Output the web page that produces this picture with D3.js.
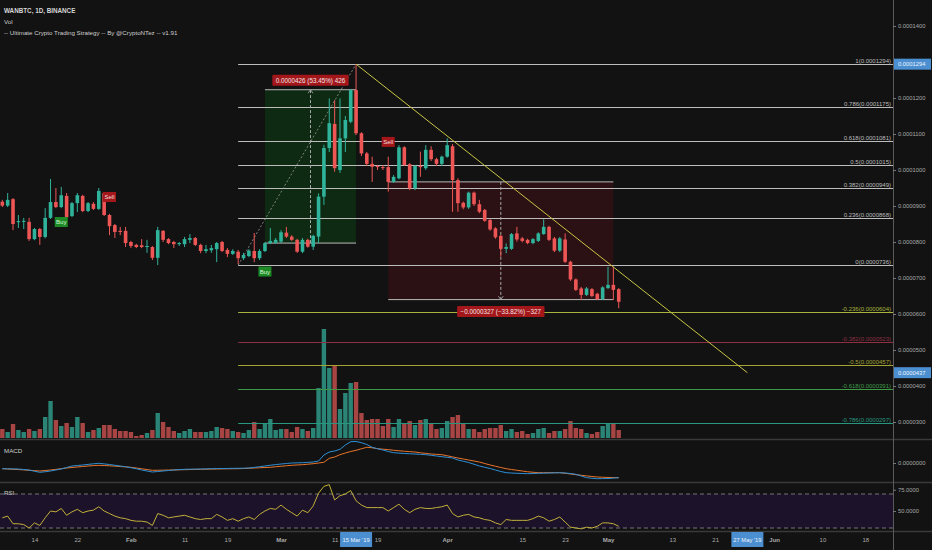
<!DOCTYPE html>
<html>
<head>
<meta charset="utf-8">
<script src="https://cdn.jsdelivr.net/npm/d3@7"></script>
<style>
html, body { margin: 0; padding: 0; background: #121212; }
svg { display: block; font-family: "Liberation Sans", Arial, sans-serif; }
</style>
</head>
<body>
<svg id="chart" width="932" height="550"></svg>
<script>
// daily candles, prices in satoshi (1e-8 BTC)
var firstDay = "2019-01-08", lastDay = "2019-05-03";

var opens = [9120,9010,9190,8550,8560,8560,8080,8360,8140,8670,9110,8970,9280,8720,9080,9280,8860,9060,8920,9360,
	8750,8470,8310,8310,8000,7920,7910,7860,7860,7560,8310,8080,8000,7940,7940,8060,8110,7920,7750,7770,
	7800,8000,7780,7670,7730,7550,7610,7750,7550,7750,7970,7980,8010,8260,8150,8060,7730,8060,7870,8150,
	9260,10610,11280,10000,10880,11340,12220,11020,10460,10170,10110,10080,10080,9670,9770,10630,10160,9490,10110,10050,
	10560,10300,10170,10370,10660,9720,9090,8960,9370,9050,8890,8610,8380,8170,7810,7810,8240,8100,8060,7970,
	8030,8220,8420,8100,7760,8070,7450,6960,6710,6530,6690,6560,6410,6720,6810,6690];
var highs = [9170,9360,9220,8750,8670,8670,8390,8390,8940,9750,9500,9530,9360,9110,9360,9310,9110,9110,9500,9390,
	8780,8500,8420,8420,8030,7950,8080,8060,7890,8420,8330,8110,8030,8000,8140,8220,8140,7950,7920,7920,
	8000,8030,7830,7800,7780,7700,7800,8250,7800,8000,8390,8110,8330,8420,8190,8090,8110,8090,8200,9350,
	10700,11990,11940,11990,11500,12250,12940,11050,10500,10370,10140,10140,10370,9860,10690,10660,10190,10140,10510,10690,
	10660,10340,10400,10880,10720,9770,9120,9400,9400,9170,8920,8640,8410,8200,7960,8250,8420,8140,8090,8110,
	8270,8630,8450,8140,8140,8240,7480,6990,6750,6750,6720,6590,6770,7310,7310,6720];
var lows = [8970,8970,8330,8390,8360,8030,8050,7920,8100,8640,8940,8940,8640,8690,8830,8830,8830,8890,8890,8720,
	8190,8110,8190,7860,7830,7830,7830,7700,7500,7360,8000,7940,7830,7890,7860,7970,7890,7690,7690,7700,
	7440,7720,7580,7640,7390,7500,7580,7440,7500,7720,7940,7950,7970,8110,8030,7700,7690,7840,7780,7970,
	9030,10500,9950,9920,10500,11300,10970,10390,10110,9670,10000,10000,9400,9640,9740,10110,9440,9440,9810,10000,
	10250,10110,10110,10340,8840,8840,8910,8920,9000,8800,8560,8310,8090,7590,7690,7780,8010,7990,7940,7940,
	8000,8200,8030,7720,7720,7420,6920,6640,6390,6500,6470,6390,6390,6690,6390,6160];
var closes = [9010,9170,8500,8580,8590,8080,8360,8140,8670,9110,8970,9300,8690,9080,9300,8860,9080,8920,9420,8750,
	8440,8280,8280,7970,7890,7860,7860,7890,7560,8330,8060,7970,7940,7970,8080,8110,7920,7750,7800,7830,
	7970,7750,7670,7750,7550,7640,7760,7550,7750,7970,8030,8060,8270,8150,8060,7730,8060,7870,8170,9260,
	10610,11300,10050,10880,11390,12220,11020,10460,10170,10090,10080,10060,9670,9810,10630,10140,9490,10110,10080,10560,
	10300,10170,10370,10690,9720,9080,8960,9370,9050,8840,8590,8350,8130,7810,7860,8220,8070,8030,7970,8080,
	8240,8420,8060,7760,8100,7450,6960,6670,6530,6710,6500,6410,6740,6810,6670,6340];
var volumes = [9,6,14,8,6,9,7,9,21,37,18,12,15,11,21,15,6,8,10,13,
	13,9,7,7,6,2,3,5,8,25,16,11,7,5,7,9,6,6,6,7,
	11,10,9,7,6,5,8,16,9,15,19,8,9,9,6,11,9,7,10,50,
	109,70,72,29,45,55,56,25,18,19,19,12,19,11,19,15,17,13,18,19,
	14,9,10,17,21,23,14,9,9,6,9,10,10,13,7,9,6,7,4,5,
	9,10,5,7,7,9,17,10,9,5,4,6,12,15,15,8];

// MACD (line and signal), RSI
var macdLine = [-228,-232,-236,-240,-260,-280,-330,-372,-350,-320,-280,-240,-180,-120,-100,-80,-56,-32,-12,-36,
	-60,-90,-120,-150,-188,-230,-280,-320,-360,-340,-320,-300,-280,-266,-252,-248,-244,-240,-236,-228,
	-224,-220,-218,-214,-212,-208,-200,-176,-148,-120,-90,-64,-40,-20,0,6,12,26,40,80,
	320,440,480,548,720,852,860,812,740,628,570,520,460,412,396,380,370,360,346,332,
	308,280,252,226,200,120,70,20,-50,-120,-170,-220,-280,-340,-388,-400,-412,-420,-428,-420,
	-412,-406,-400,-394,-388,-400,-420,-452,-520,-588,-610,-628,-624,-620,-606,-588];
var signalLine = [-228,-240,-252,-264,-276,-290,-305,-320,-300,-280,-255,-228,-200,-180,-160,-140,-120,-104,-92,-100,
	-112,-126,-140,-156,-172,-200,-230,-262,-292,-290,-286,-282,-278,-272,-268,-262,-256,-252,-248,-244,
	-240,-236,-232,-230,-228,-220,-210,-200,-190,-180,-172,-150,-130,-110,-92,-78,-68,-48,-28,0,
	28,188,240,332,400,460,508,570,628,610,572,552,536,510,490,470,455,440,410,385,
	360,346,332,290,245,200,160,120,80,40,-20,-80,-130,-180,-228,-260,-290,-320,-350,-370,
	-388,-388,-388,-388,-388,-410,-440,-468,-490,-515,-540,-560,-570,-578,-584,-588];
var rsiLine = [42,44,35,35,34,30,36,33,42,50,49,53,45,49,52,48,50,51,55,50,
	47,44,42,41,39,38,38,37,33,47,45,42,43,44,45,43,41,40,41,41,
	46,43,39,41,38,41,43,40,46,50,53,52,57,52,48,44,51,48,56,71,
	79,81,63,68,70,74,62,57,54,54,54,54,50,54,58,52,48,52,54,53,
	53,54,55,57,47,43,45,46,43,42,40,39,36,34,40,39,39,39,39,41,
	44,42,38,40,43,37,31,30,29,31,30,32,36,36,35,32];

// drawings
var fibDates = ["2019-02-21", "2019-03-15"];
var fibAnchors = [7360, 12940];
var fibLevels = [1, 0.786, 0.618, 0.5, 0.382, 0.236, 0, -0.236, -0.382, -0.5, -0.618, -0.786];
var trendDates = ["2019-03-15", "2019-05-27"];
var trendPrices = [12940, 4370];
var upRangeDates = ["2019-02-26", "2019-03-15"];
var upRangePrices = [7970, 12230];
var downRangeDates = ["2019-03-21", "2019-05-02"];
var downRangePrices = [9670, 6400];
var signalDates = ["2019-01-19", "2019-01-28", "2019-02-26", "2019-03-21"];
var signalTypes = ["Buy", "Sell", "Buy", "Sell"];
var signalPrices = [8555, 9250, 7180, 10780];

// axes
var priceTicks = [3000, 4000, 5000, 6000, 7000, 8000, 9000, 10000, 11000, 12000, 14000];
var dateTicks = ["2019-01-14","2019-01-22","2019-02-01","2019-02-11","2019-02-19","2019-03-01","2019-03-11","2019-03-19",
	"2019-04-01","2019-04-15","2019-04-23","2019-05-01","2019-05-13","2019-05-21","2019-06-01","2019-06-10","2019-06-18"];
var dateTickLabels = ["14","22","Feb","11","19","Mar","11","19","Apr","15","23","May","13","21","Jun","10","18"];
var markedPrices = [12940, 4370];
var markedDates = ["2019-03-15", "2019-05-27"];
var markedDateLabels = ["15 Mar '19", "27 May '19"];

var fibColors = ["#bdbdbd","#bdbdbd","#bdbdbd","#bdbdbd","#bdbdbd","#bdbdbd","#bdbdbd","#a9b43c","#8e2f42","#a3a334","#3f9a48","#27977f"];

var W = 932, H = 550, axisX = 893;
var upColor = "#2fb39b", downColor = "#ee5656";
var fmtPrice = function(v) { return (v / 1e8).toFixed(7); };
var parseDay = d3.utcParse("%Y-%m-%d");

var svg = d3.select("#chart");
svg.append("rect").attr("width", W).attr("height", H).attr("fill", "#121212");

var x = d3.scaleUtc().domain([parseDay("2019-01-08"), parseDay("2019-06-18")]).range([2.3, 865.3]);
var y = d3.scaleLinear().domain([3000, 14000]).range([422, 26]);
var yVol = d3.scaleLinear().domain([0, 110]).range([438, 328]);
var yMacd = d3.scaleLinear().domain([-700, 900]).range([480.5, 440.5]);
var yRsi = d3.scaleLinear().domain([30, 70]).range([528, 494]);

var dates = d3.utcDay.range(parseDay(firstDay), d3.utcDay.offset(parseDay(lastDay), 1));
var rows = dates.map(function(dt, i) {
	return {date: dt, o: opens[i], h: highs[i], l: lows[i], c: closes[i], v: volumes[i],
		macd: macdLine[i], sig: signalLine[i], rsi: rsiLine[i]};
});

svg.append("clipPath").attr("id", "mainClip").append("rect")
	.attr("x", 0).attr("y", 0).attr("width", axisX).attr("height", 439);
var main = svg.append("g").attr("clip-path", "url(#mainClip)");

// price range boxes
function rangeBox(ds, ps, fill) {
	var x0 = x(parseDay(ds[0])), x1 = x(parseDay(ds[1]));
	var yA = y(ps[0]), yB = y(ps[1]);
	main.append("rect")
		.attr("x", x0).attr("width", x1 - x0)
		.attr("y", Math.min(yA, yB)).attr("height", Math.abs(yB - yA))
		.attr("fill", fill);
}
rangeBox(upRangeDates, upRangePrices, "#0f2a13");
rangeBox(downRangeDates, downRangePrices, "#2b1113");

// volume
main.selectAll("rect.vol").data(rows).enter().append("rect")
	.attr("class", "vol")
	.attr("x", function(d) { return x(d.date) - 2.2; })
	.attr("width", 4.4)
	.attr("y", function(d) { return yVol(d.v); })
	.attr("height", function(d) { return yVol(0) - yVol(d.v); })
	.attr("fill", function(d) { return d.c >= d.o ? "#2a8576" : "#a64544"; });

// fib retracement
var fibX0 = x(parseDay(fibDates[0]));
fibLevels.forEach(function(lv, i) {
	var p = fibAnchors[0] + lv * (fibAnchors[1] - fibAnchors[0]);
	var yy = Math.round(y(p)) + 0.5;
	main.append("line")
		.attr("x1", fibX0).attr("x2", axisX).attr("y1", yy).attr("y2", yy)
		.attr("stroke", fibColors[i]).attr("stroke-width", 1);
	main.append("text")
		.attr("x", axisX - 2).attr("y", yy - 1.8)
		.attr("text-anchor", "end")
		.attr("font-size", 6)
		.attr("fill", fibColors[i])
		.text(lv + "(" + fmtPrice(Math.round(p / 10) * 10) + ")");
});
main.append("line")
	.attr("x1", fibX0).attr("y1", y(fibAnchors[0]))
	.attr("x2", x(parseDay(fibDates[1]))).attr("y2", y(fibAnchors[1]))
	.attr("stroke", "#9a9a9a").attr("stroke-width", 0.8).attr("stroke-dasharray", "2,2");

// range box edges and measuring arrows
function rangeEdges(ds, ps) {
	var x0 = x(parseDay(ds[0])), x1 = x(parseDay(ds[1])), xm = (x0 + x1) / 2;
	var yA = y(ps[0]), yB = y(ps[1]);
	[yA, yB].forEach(function(yy) {
		main.append("line").attr("x1", x0).attr("x2", x1).attr("y1", yy).attr("y2", yy)
			.attr("stroke", "#b8b8b8").attr("stroke-width", 1);
	});
	main.append("line").attr("x1", xm).attr("x2", xm).attr("y1", yA).attr("y2", yB)
		.attr("stroke", "#a8a8a8").attr("stroke-width", 1).attr("stroke-dasharray", "3,2");
	var dir = yB < yA ? 1 : -1;
	main.append("path")
		.attr("d", "M" + (xm - 2.5) + "," + (yB + dir * 3.5) + "L" + xm + "," + yB + "L" + (xm + 2.5) + "," + (yB + dir * 3.5))
		.attr("fill", "none").attr("stroke", "#a8a8a8").attr("stroke-width", 0.8);
}
rangeEdges(upRangeDates, upRangePrices);
rangeEdges(downRangeDates, downRangePrices);

// candles
var candle = main.selectAll("g.candle").data(rows).enter().append("g").attr("class", "candle");
candle.append("line")
	.attr("x1", function(d) { return x(d.date); })
	.attr("x2", function(d) { return x(d.date); })
	.attr("y1", function(d) { return y(d.h); })
	.attr("y2", function(d) { return y(d.l); })
	.attr("stroke", function(d) { return d.c >= d.o ? upColor : downColor; })
	.attr("stroke-width", 1);
candle.append("rect")
	.attr("x", function(d) { return x(d.date) - 1.8; })
	.attr("width", 3.6)
	.attr("y", function(d) { return y(Math.max(d.o, d.c)); })
	.attr("height", function(d) { return Math.max(1, Math.abs(y(d.o) - y(d.c))); })
	.attr("fill", function(d) { return d.c >= d.o ? upColor : downColor; });

// trend line
main.append("line")
	.attr("x1", x(parseDay(trendDates[0]))).attr("y1", y(trendPrices[0]))
	.attr("x2", x(parseDay(trendDates[1]))).attr("y2", y(trendPrices[1]))
	.attr("stroke", "#c9c544").attr("stroke-width", 1);

// range labels
function rangeLabel(ds, ps, dy) {
	var xm = (x(parseDay(ds[0])) + x(parseDay(ds[1]))) / 2;
	var diff = ps[1] - ps[0];
	var minus = function(s) { return s.replace("-", "\u2212"); };
	var txt = minus(fmtPrice(diff)) + " (" + minus((diff / ps[0] * 100).toFixed(2)) + "%) " + minus(String(diff / 10));
	var cy = y(ps[1]) + dy;
	var g = svg.append("g");
	var t = g.append("text").attr("x", xm).attr("y", cy).attr("text-anchor", "middle")
		.attr("dominant-baseline", "central").attr("font-size", 6.3).attr("fill", "#f0e6e6").text(txt);
	var w = t.node().getComputedTextLength() + 7;
	g.insert("rect", "text").attr("x", xm - w / 2).attr("y", cy - 5.5).attr("width", w).attr("height", 11)
		.attr("rx", 1).attr("fill", "#a3171b");
}
rangeLabel(upRangeDates, upRangePrices, -9.5);
rangeLabel(downRangeDates, downRangePrices, 12);

// strategy signals
signalDates.forEach(function(ds, i) {
	var cx = x(parseDay(ds)), cy = y(signalPrices[i]);
	var buy = signalTypes[i] == "Buy";
	main.append("rect").attr("x", cx - 6.5).attr("y", cy - 5).attr("width", 13).attr("height", 10)
		.attr("fill", buy ? "#1d8a26" : "#a3171b");
	main.append("text").attr("x", cx).attr("y", cy).attr("text-anchor", "middle")
		.attr("dominant-baseline", "central").attr("font-size", 6)
		.attr("fill", buy ? "#d8f5d8" : "#f6dede").text(signalTypes[i]);
});

// MACD pane
var macdPath = d3.line().x(function(d) { return x(d.date); });
svg.append("path").datum(rows)
	.attr("d", macdPath.y(function(d) { return yMacd(d.sig); }))
	.attr("fill", "none").attr("stroke", "#e8742b").attr("stroke-width", 1);
svg.append("path").datum(rows)
	.attr("d", d3.line().x(function(d) { return x(d.date); }).y(function(d) { return yMacd(d.macd); }))
	.attr("fill", "none").attr("stroke", "#2e8fd6").attr("stroke-width", 1);

// RSI pane
svg.append("rect").attr("x", 0).attr("width", axisX)
	.attr("y", yRsi(70)).attr("height", yRsi(30) - yRsi(70)).attr("fill", "#1c1229");
[70, 30].forEach(function(v) {
	svg.append("line").attr("x1", 0).attr("x2", axisX).attr("y1", yRsi(v)).attr("y2", yRsi(v))
		.attr("stroke", "#8d8d8d").attr("stroke-width", 0.8).attr("stroke-dasharray", "4,3");
});
svg.append("path").datum(rows)
	.attr("d", d3.line().x(function(d) { return x(d.date); }).y(function(d) { return yRsi(d.rsi); }))
	.attr("fill", "none").attr("stroke", "#c2b03a").attr("stroke-width", 1);

// pane separators and axis border
[439.5, 482.5, 531.5].forEach(function(yy) {
	svg.append("line").attr("x1", 0).attr("x2", W).attr("y1", yy).attr("y2", yy)
		.attr("stroke", "#3a3a3a").attr("stroke-width", 1.5);
});
svg.append("line").attr("x1", axisX + 0.5).attr("x2", axisX + 0.5).attr("y1", 0).attr("y2", H)
	.attr("stroke", "#5a5a5a").attr("stroke-width", 1);

// right axes
function styleAxis(g) {
	g.select(".domain").remove();
	g.attr("font-family", "Liberation Sans, Arial, sans-serif").attr("font-size", 5.8);
	g.selectAll("line").attr("stroke", "#777");
	g.selectAll("text").attr("fill", "#a9a9a9");
}
svg.append("g").attr("transform", "translate(" + axisX + ",0)")
	.call(d3.axisRight(y).tickValues(priceTicks).tickSize(3).tickPadding(2).tickFormat(fmtPrice))
	.call(styleAxis);
svg.append("g").attr("transform", "translate(" + axisX + ",0)")
	.call(d3.axisRight(yMacd).tickValues([0]).tickSize(3).tickPadding(2).tickFormat(function(v) { return v.toFixed(7); }))
	.call(styleAxis);
svg.append("g").attr("transform", "translate(" + axisX + ",0)")
	.call(d3.axisRight(yRsi.copy().clamp(false)).tickValues([75, 50]).tickSize(3).tickPadding(2).tickFormat(function(v) { return v.toFixed(4); }))
	.call(styleAxis);

markedPrices.forEach(function(p) {
	var yy = y(p);
	svg.append("rect").attr("x", axisX + 1).attr("y", yy - 5.5).attr("width", W - axisX - 2).attr("height", 11)
		.attr("fill", "#4b8fd1");
	svg.append("text").attr("x", axisX + 5).attr("y", yy).attr("dominant-baseline", "central")
		.attr("font-size", 5.8).attr("fill", "#eef4fb").text(fmtPrice(p));
});

// time axis
var gx = svg.append("g").attr("transform", "translate(0,531)")
	.call(d3.axisBottom(x).tickValues(dateTicks.map(parseDay)).tickSize(0).tickPadding(7)
		.tickFormat(function(d, i) { return dateTickLabels[i]; }));
gx.select(".domain").remove();
gx.attr("font-family", "Liberation Sans, Arial, sans-serif").attr("font-size", 6);
gx.selectAll("text").attr("fill", "#a9a9a9")
	.attr("font-weight", function(d, i) { return /[A-Za-z]/.test(dateTickLabels[i]) ? "bold" : "normal"; });

markedDates.forEach(function(ds, i) {
	var cx = x(parseDay(ds));
	svg.append("rect").attr("x", cx - 16).attr("y", 532).attr("width", 32).attr("height", 15)
		.attr("fill", "#4b8fd1");
	svg.append("text").attr("x", cx).attr("y", 540).attr("text-anchor", "middle")
		.attr("dominant-baseline", "central").attr("font-size", 5.8).attr("fill", "#eef4fb")
		.text(markedDateLabels[i]);
});

// legends
svg.append("text").attr("x", 4).attr("y", 13).attr("font-size", 6.3).attr("font-weight", "bold")
	.attr("fill", "#d6d6d6").text("WANBTC, 1D, BINANCE");
svg.append("text").attr("x", 4).attr("y", 24).attr("font-size", 6.2).attr("fill", "#cfcfcf").text("Vol");
svg.append("text").attr("x", 4).attr("y", 35).attr("font-size", 6.2).attr("fill", "#cfcfcf")
	.text("-- Ultimate Crypto Trading Strategy -- By @CryptoNTez -- v1.91");
svg.append("text").attr("x", 4).attr("y", 453).attr("font-size", 6.2).attr("fill", "#cfcfcf").text("MACD");
svg.append("text").attr("x", 4).attr("y", 495).attr("font-size", 6.2).attr("fill", "#cfcfcf").text("RSI");
</script>
</body>
</html>
